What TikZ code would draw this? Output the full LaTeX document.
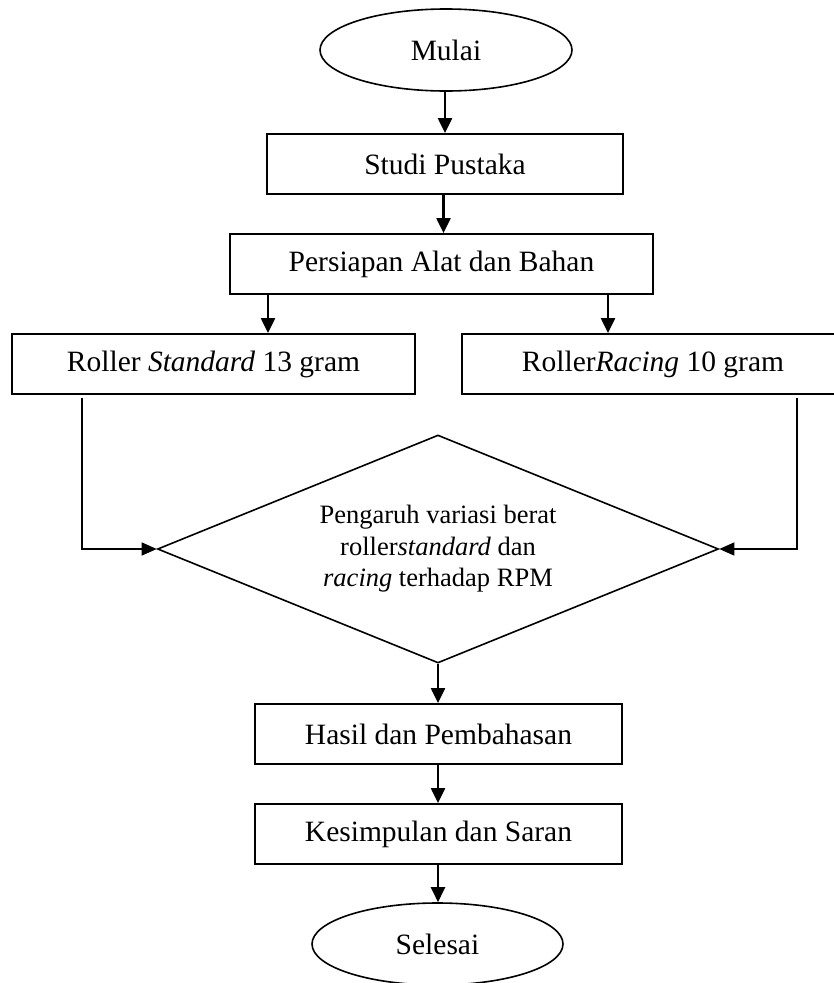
\documentclass[tikz,border=0pt]{standalone}
\usepackage{fontspec}
\setmainfont{Liberation Serif}
\usetikzlibrary{shapes.geometric,arrows.meta}
\tikzset{
  box/.style={draw, line width=1.8pt, rectangle, inner sep=0pt, minimum height=60pt, font=\fontsize{29.5}{34}\selectfont},
  term/.style={draw, line width=1.6pt, ellipse, inner sep=0pt, minimum width=252pt, minimum height=82pt, font=\fontsize{29.5}{34}\selectfont},
  decide/.style={draw, line width=1.6pt, diamond, aspect=2.4605, inner sep=0pt, minimum width=561pt, minimum height=228pt, align=center, font=\fontsize{26.5}{31.5}\selectfont},
  arr/.style={line width=2.2pt, -{Triangle[length=15pt,width=14pt]}},
  sidearr/.style={line width=1.4pt, -{Triangle[length=15pt,width=13pt]}}
}
\begin{document}
\begin{tikzpicture}[x=1pt,y=-1pt]
\useasboundingbox (0,0) rectangle (834,983);
\clip (0,0) rectangle (834,983);
\node[term] (mulai) at (446,50) {Mulai};
\node[box, minimum width=356pt] (studi) at (445,164) {Studi Pustaka};
\node[box, minimum width=423pt] (prep) at (441.5,264) {Persiapan Alat dan Bahan};
\node[box, minimum width=403pt] (rs) at (213.5,364) {Roller \textit{Standard} 13 gram};
\node[box, minimum width=382pt] (rr) at (653,364) {Roller\textit{Racing} 10 gram};
\node[decide] (dec) at (438,549) {Pengaruh variasi berat\\roller\textit{standard} dan\\\textit{racing} terhadap RPM};
\node[box, minimum width=367pt] (hasil) at (438.5,734) {Hasil dan Pembahasan};
\node[box, minimum width=367pt] (kes) at (438.5,834) {Kesimpulan dan Saran};
\node[term, minimum width=251pt] (sel) at (437.5,944) {Selesai};
\coordinate (ls) at (82,398);
\coordinate (rs2) at (797,398);
\draw[arr] (mulai.south -| 445,0) -- (studi.north -| 445,0);
\draw[arr] (studi.south -| 443.5,0) -- (prep.north -| 443.5,0);
\draw[arr] (prep.south -| 268,0) -- (rs.north -| 268,0);
\draw[arr] (prep.south -| 608,0) -- (rr.north -| 608,0);
\draw[sidearr] (ls) |- (dec.west);
\draw[sidearr] (rs2) |- (dec.east);
\draw[arr] (dec.south) -- (hasil.north -| dec.south);
\draw[arr] (hasil.south -| dec.south) -- (kes.north -| dec.south);
\draw[arr] (kes.south -| dec.south) -- (sel.north -| dec.south);
\end{tikzpicture}
\end{document}
